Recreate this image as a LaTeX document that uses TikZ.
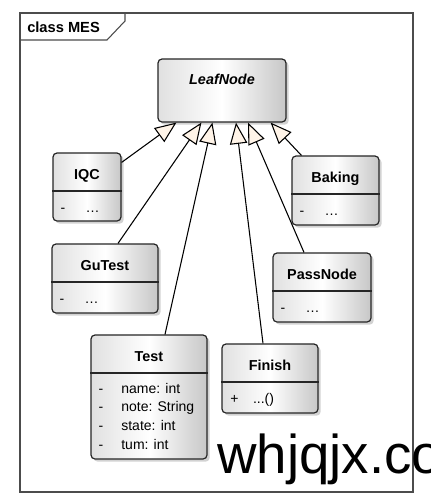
\documentclass[tikz,border=0pt]{standalone}
\usepackage{fontspec}
\setmainfont{Liberation Sans}
\usetikzlibrary{shapes, arrows.meta, shadows, calc, positioning}

\newcommand{\vis}[1]{\strut\makebox[17pt][l]{#1}}

\begin{document}
\begin{tikzpicture}[%
    x=0.75pt, y=-0.75pt,        % one unit = one pixel, y runs down
    >={Triangle[length=16pt, width=13pt, fill=orange!9]},
    ]

\tikzset{
  base/.style={draw=black!85, line width=0.9pt, rounded corners=3pt,
    left color=black!12, right color=black!22, middle color=white,
    drop shadow={shadow xshift=2pt, shadow yshift=-2pt, fill=black!35, opacity=.5}},
  cname/.style={anchor=base, font=\fontsize{10.8}{13}\selectfont\bfseries},
  attrs/.style={anchor=north west, align=left, inner sep=0pt,
    font=\fontsize{10.5}{14}\selectfont},
  sep/.style={draw=black!85, line width=0.9pt},
  gen/.style={->, draw=black, line width=0.8pt}
  };

\clip (0,0) rectangle (430,504);
\fill[white] (0,0) rectangle (430,504);

% frame
\draw[black!70, line width=0.8pt] (20,13) rectangle (413,492);
\draw[black!70, line width=0.8pt] (20,40) -- (107,40) -- (125,21) -- (125,13);
\node[anchor=base west, inner sep=0pt, font=\fontsize{11}{13}\selectfont\bfseries] (title) at (27,32) {class MES};

% base class
\node[base, minimum width=96pt, minimum height=47.25pt] (leaf) at (222,90.5) {};
\node[cname, font=\fontsize{10.8}{13}\selectfont\bfseries\itshape] (leafname) at ([yshift=-19.5pt]leaf.north) {LeafNode};

% subclasses
\node[base, minimum width=51pt, minimum height=51pt] (iqc) at (87,187) {};
\node[base, minimum width=79.5pt, minimum height=51.75pt] (gutest) at (105,278.5) {};
\node[base, minimum width=87pt, minimum height=93pt] (test) at (149,397) {};
\node[base, minimum width=72pt, minimum height=51.75pt] (finish) at (270,378.5) {};
\node[base, minimum width=73.5pt, minimum height=51.75pt] (passnode) at (322,287.5) {};
\node[base, minimum width=65.25pt, minimum height=51.75pt] (baking) at (335.5,190.5) {};

\foreach \c/\t in {iqc/IQC, gutest/GuTest, test/Test, finish/Finish, passnode/PassNode, baking/Baking}{
  \node[cname] (\c name) at ([yshift=-20.25pt]\c.north) {\t};
  \draw[sep] ([yshift=-29pt]\c.north west) -- ([yshift=-29pt]\c.north east);
}

% attributes
\node[attrs] (iqcattr) at ([xshift=6pt, yshift=-35pt]iqc.north west) {\vis{-}\,\dots};
\node[attrs] (gutestattr) at ([xshift=6pt, yshift=-35pt]gutest.north west) {\vis{-}\,\dots};
\node[attrs] (bakingattr) at ([xshift=6pt, yshift=-35pt]baking.north west) {\vis{-}\,\dots};
\node[attrs] (passnodeattr) at ([xshift=6pt, yshift=-35pt]passnode.north west) {\vis{-}\,\dots};
\node[attrs] (testattr) at ([xshift=6pt, yshift=-34pt]test.north west)
  {\vis{-}name: int\\ \vis{-}note: String\\ \vis{-}state: int\\ \vis{-}tum: int};
\node[attrs] (finishattr) at ([xshift=6.5pt, yshift=-35pt]finish.north west) {\vis{+}...()};

% generalizations
\draw[gen] ([yshift=-7.5pt]iqc.north east) -- ([xshift=14.25pt]leaf.south west);
\draw[gen] ([xshift=9.75pt]gutest.north) -- ([xshift=33pt]leaf.south west);
\draw[gen] ([xshift=12pt]test.north) -- ([xshift=41.25pt]leaf.south west);
\draw[gen] ([xshift=-5.25pt]finish.north) -- ([xshift=10.5pt]leaf.south);
\draw[gen] ([xshift=-13.5pt]passnode.north) -- ([xshift=19.5pt]leaf.south);
\draw[gen] ([xshift=7.5pt]baking.north west) -- ([xshift=-12pt]leaf.south east);

% watermark
\node[anchor=base west, inner sep=0pt, font=\fontsize{41}{49}\selectfont] (mark) at (217,473) {whjqjx.co};

\end{tikzpicture}
\end{document}
